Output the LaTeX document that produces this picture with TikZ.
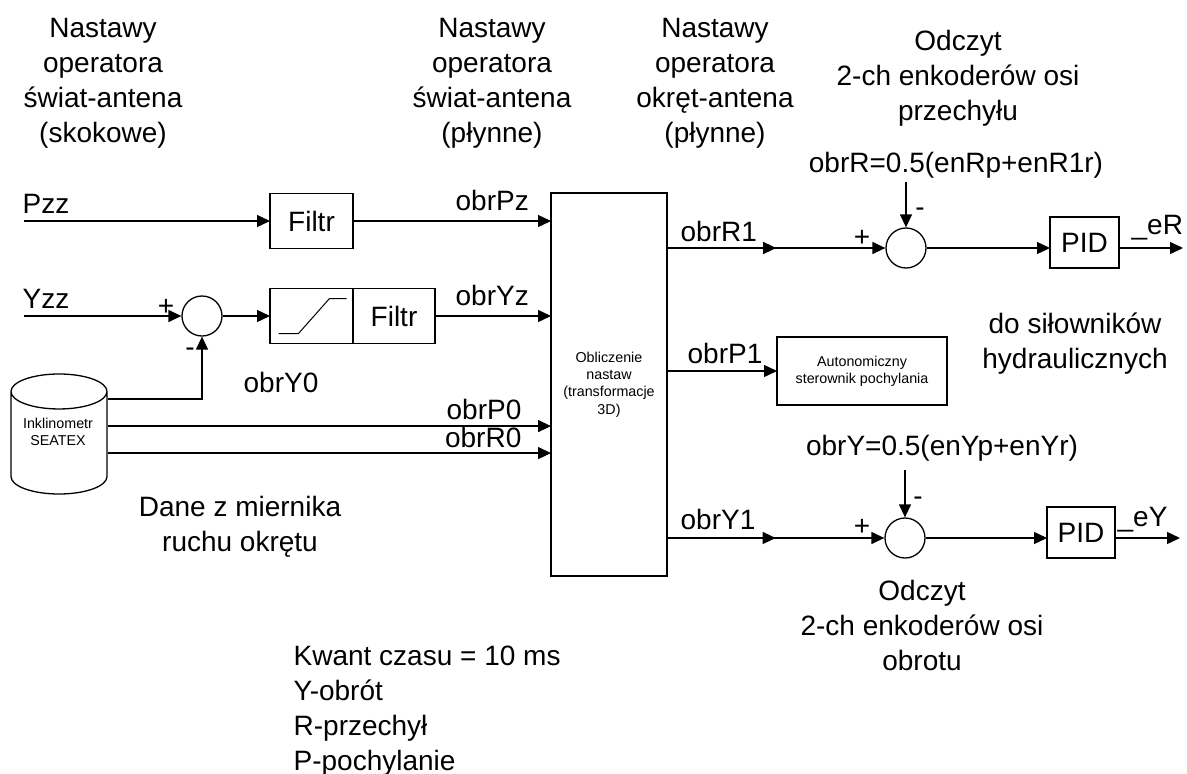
\documentclass[tikz,border=0pt]{standalone}
\usepackage{fontspec}
\setmainfont{Liberation Sans}
\usetikzlibrary{positioning, arrows.meta, shapes.geometric, decorations.markings}

\newcommand{\fontbig}{\fontsize{28}{35}\selectfont}
\newcommand{\fontsmall}{\fontsize{14.3}{17.3}\selectfont}

\begin{document}
\begin{tikzpicture}[
    x=1pt, y=1pt,
    >={Triangle[length=13pt, width=12pt]},
    line width=1.3pt,
    % Blocks
    block/.style={
        rectangle, draw, inner sep=0pt, outer sep=0pt, font=\fontbig
    },
    sum_node/.style={
        circle, draw, minimum size=40pt, inner sep=0pt
    },
    sensor/.style={
        cylinder, shape border rotate=90, draw, aspect=0.5,
        minimum width=96pt, minimum height=120pt, inner sep=0pt,
        font=\fontsmall, align=center
    },
    % Labels (base = last line)
    big_text/.style={font=\fontbig, inner sep=0pt, anchor=base},
    small_text/.style={font=\fontsmall, inner sep=0pt, align=center},
    note_text/.style={font=\fontbig, inner sep=0pt, align=center, anchor=base},
    sign/.style={font=\fontbig, inner sep=0pt, anchor=base},
    mid_arrow/.style={postaction={decorate}, decoration={markings,
        mark=at position 0.5 with {\arrow{>}}}}
]
    \useasboundingbox (0,0) rectangle (1187,-774);

    % --- HEADINGS ---
    \node[note_text] (H-1) at (103,-142) {Nastawy\\operatora\\świat-antena\\(skokowe)};
    \node[note_text] (H-2) at (492,-142) {Nastawy\\operatora\\świat-antena\\(płynne)};
    \node[note_text] (H-3) at (715,-142) {Nastawy\\operatora\\okręt-antena\\(płynne)};
    \node[note_text] (H-4) at (958,-120) {Odczyt\\2-ch enkoderów osi\\przechyłu};

    % --- INPUTS ---
    \coordinate (Pzz) at (24,-221);
    \coordinate (Yzz) at (24,-316);
    \node[big_text, anchor=base west] (Pzz-l) at (22,-213) {Pzz};
    \node[big_text, anchor=base west] (Yzz-l) at (22,-308) {Yzz};

    \node[block, minimum width=83pt, minimum height=55pt] (Filtr-P) at (311.5,-221) {Filtr};
    \node[sum_node] (Sum-Y) at (202,-316) {};
    \node[block, minimum width=83pt, minimum height=55pt] (Sat) at (311.5,-316) {};
    \node[block, minimum width=82pt, minimum height=55pt, right=0pt of Sat] (Filtr-Y) {Filtr};
    \draw[line width=1pt, shift={(Sat.center)}] (-33,-17.5) -- (-13,-17.5) -- (18,17.5) -- (35,17.5);

    \node[sensor, anchor=shape center] (Ink) at (59,-434) {\phantom{Inklinometr}\\\phantom{SEATEX}};
    \node[small_text] (Ink-txt) at (58,-432) {Inklinometr\\SEATEX};

    % --- CALCULATION ---
    \node[block, minimum width=116pt, minimum height=383pt, font=\fontsmall, align=center]
        (Calc) at (609,-384.5) {Obliczenie\\nastaw\\(transformacje\\3D)};

    % --- OUTPUT LOOPS ---
    \node[sum_node] (Sum-R) at (906,-248) {};
    \node[sum_node] (Sum-O) at (905,-538) {};
    \node[block, minimum width=69pt, minimum height=51pt] (PID-R) at (1084.5,-242.5) {PID};
    \node[block, minimum width=68pt, minimum height=51pt] (PID-O) at (1081,-532.5) {PID};
    \node[block, minimum width=170pt, minimum height=68pt, font=\fontsmall, align=center]
        (Auto) at (862,-371) {Autonomiczny\\sterownik pochylania};
    \node[big_text] (Form-R) at (956,-172) {obrR=0.5(enRp+enR1r)};
    \node[big_text] (Form-O) at (942,-455) {obrY=0.5(enYp+enYr)};
    \coordinate (eR) at (1183,-248);
    \coordinate (eY) at (1180,-538);

    % --- CONNECTIONS ---
    \draw[->] (Pzz) -- (Filtr-P);
    \draw[->] (Filtr-P) -- (Filtr-P -| Calc.west);
    \draw[->] (Yzz) -- (Sum-Y);
    \draw[->] (Sum-Y) -- (Sat);
    \draw[->] (Filtr-Y) -- (Filtr-Y -| Calc.west);
    \coordinate (Ink-Y0) at ([yshift=44pt]Ink.east);
    \coordinate (Ink-P0) at ([yshift=17pt]Ink.east);
    \coordinate (Ink-R0) at ([yshift=-10pt]Ink.east);
    \draw[->] (Ink-Y0) -| (Sum-Y);
    \draw[->] (Ink-P0) -- (Ink-P0 -| Calc.west);
    \draw[->] (Ink-R0) -- (Ink-R0 -| Calc.west);

    \draw[->, mid_arrow] (Calc.east |- Sum-R) -- (Sum-R);
    \draw[->] (Calc.east |- Auto) -- (Auto);
    \draw[->, mid_arrow] (Calc.east |- Sum-O) -- (Sum-O);
    \draw[->, shorten <=4pt] (Sum-R |- Form-R.south) -- (Sum-R);
    \draw[->, shorten <=9pt] (Sum-O |- Form-O.south) -- (Sum-O);
    \draw[->] (Sum-R) -- (Sum-R -| PID-R.west);
    \draw[->] (Sum-O) -- (Sum-O -| PID-O.west);
    \draw[->] (PID-R.east |- eR) -- (eR);
    \draw[->] (PID-O.east |- eY) -- (eY);

    % --- SIGNAL NAMES ---
    \node[big_text, anchor=base west] (L-Pz) at (455,-210) {obrPz};
    \node[big_text, anchor=base west] (L-Yz) at (455,-305) {obrYz};
    \node[big_text, anchor=base west] (L-Y0) at (243,-392) {obrY0};
    \node[big_text, anchor=base east] (L-P0) at (522,-419) {obrP0};
    \node[big_text, anchor=base east] (L-R0) at (522,-447) {obrR0};
    \node[big_text, anchor=base west] (L-R1) at (680,-241) {obrR1};
    \node[big_text, anchor=base west] (L-P1) at (687,-363) {obrP1};
    \node[big_text, anchor=base west] (L-Y1) at (680,-529) {obrY1};
    \node[big_text, anchor=base west] (L-eR) at (1131,-234) {\_eR};
    \node[big_text, anchor=base west] (L-eY) at (1117,-526) {\_eY};

    % signs at the junctions
    \node[sign] (S-Yp) at (166,-315) {+};
    \node[sign] (S-Ym) at (190,-356) {-};
    \node[sign] (S-Rp) at (862,-246) {+};
    \node[sign] (S-Rm) at (920,-216) {-};
    \node[sign] (S-Op) at (862,-535) {+};
    \node[sign] (S-Om) at (918,-505) {-};

    % --- NOTES ---
    \node[note_text] (N-ship) at (240,-551) {Dane z miernika\\ruchu okrętu};
    \node[note_text] (N-act) at (1075,-368) {do siłowników\\hydraulicznych};
    \node[note_text] (N-enc) at (922,-670) {Odczyt\\2-ch enkoderów osi\\obrotu};
    \node[note_text, align=left, anchor=base west] (N-key) at (293,-770)
        {Kwant czasu = 10 ms\\Y-obrót\\R-przechył\\P-pochylanie};

\end{tikzpicture}
\end{document}
